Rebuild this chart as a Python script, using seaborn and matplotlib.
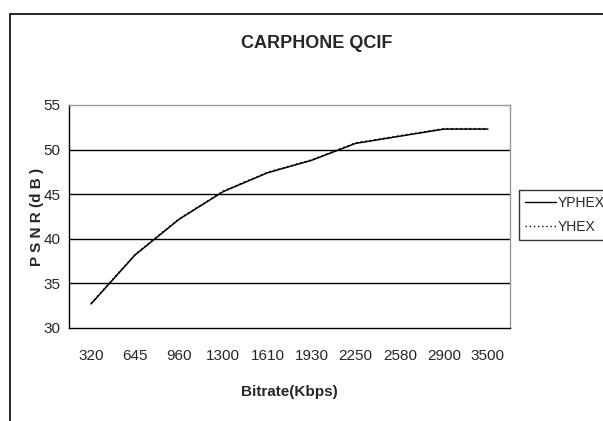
import matplotlib
matplotlib.use('Agg')
import matplotlib.pyplot as plt # type: ignore
from matplotlib.patches import Rectangle
from matplotlib.ticker import MultipleLocator, FixedLocator
import pandas as pd # type: ignore
import seaborn as sns # type: ignore

# Bitrate categories (Kbps) and PSNR values
bitrates = ['320', '645', '960', '1300', '1610', '1930', '2250', '2580', '2900', '3500']
psnr_yphex = [32.7, 38.2, 42.2, 45.3, 47.4, 48.8, 50.7, 51.5, 52.3, 52.3]
psnr_yhex = [32.75, 38.25, 42.25, 45.35, 47.45, 48.85, 50.75, 51.55, 52.35, 52.35]

sns.set_style('white')
plt.rcParams['font.family'] = ['Liberation Sans Narrow', 'Liberation Sans', 'DejaVu Sans']

df = pd.DataFrame({
    'pos': list(range(len(bitrates))) * 2,
    'psnr': psnr_yphex + psnr_yhex,
    'series': ['YPHEX'] * len(bitrates) + ['YHEX'] * len(bitrates),
})

fig = plt.figure(figsize=(6.03, 4.21), dpi=100)
ax = fig.add_axes([69 / 603, 1 - 328 / 421, (510 - 69) / 603, (328 - 105) / 421])

sns.lineplot(data=df, x='pos', y='psnr', hue='series', style='series',
             palette={'YPHEX': 'black', 'YHEX': 'black'},
             dashes={'YPHEX': '', 'YHEX': (1, 2)}, linewidth=1.1, ax=ax, legend=False)

ax.set_xlim(-0.5, len(bitrates) - 0.5)
ax.set_ylim(30, 55)
ax.set_xticks(range(len(bitrates)))
ax.set_xticklabels(bitrates)
# category boundaries get the tick marks, labels sit in between
ax.xaxis.set_minor_locator(FixedLocator([i - 0.5 for i in range(len(bitrates) + 1)]))
ax.yaxis.set_major_locator(MultipleLocator(5))
ax.yaxis.set_minor_locator(MultipleLocator(1))
ax.tick_params(axis='x', which='major', length=0, pad=15, labelsize=11)
ax.tick_params(axis='x', which='minor', length=5, width=1, direction='out', color='black')
ax.tick_params(axis='y', which='major', length=5, width=1, direction='out', color='black', labelsize=11, pad=1)
ax.tick_params(axis='y', which='minor', length=3, width=1, direction='out', color='black')

for y in [35, 40, 45, 50]:
    ax.axhline(y, color='black', linewidth=1.0, zorder=0)

ax.spines['left'].set_color('black')
ax.spines['bottom'].set_color('black')
ax.spines['top'].set_color('#999999')
ax.spines['right'].set_color('#999999')
for s in ax.spines.values():
    s.set_linewidth(1.0)

ax.set_xlabel('Bitrate(Kbps)', fontsize=11, fontweight='bold', labelpad=16)
ax.set_ylabel('P S N R (d B )', fontsize=11, fontweight='bold', labelpad=0)
fig.text(0.525, 1 - 44 / 421, 'CARPHONE QCIF', ha='center', va='center',
         fontsize=13, fontweight='bold')

handles = [plt.Line2D([], [], color='black', lw=1.0),
           plt.Line2D([], [], color='black', lw=1.0, linestyle=(0, (1, 2)))]
leg = fig.legend(handles, ['YPHEX', 'YHEX'], loc='lower left',
                 bbox_to_anchor=(519 / 603, 1 - 240 / 421), frameon=True,
                 fancybox=False, fontsize=10, handlelength=2.2, handletextpad=0.1,
                 borderpad=0.45, labelspacing=0.7, borderaxespad=0)
leg.get_frame().set_edgecolor('black')
leg.get_frame().set_linewidth(1.0)

# outer chart border, running off the right and bottom edges
fig.patches.append(Rectangle((10 / 603, -0.1), 1.2, 1 - 14 / 421 + 0.1,
                             transform=fig.transFigure, fill=False,
                             edgecolor='black', linewidth=1.2))

fig.savefig('out.png', dpi=100)
